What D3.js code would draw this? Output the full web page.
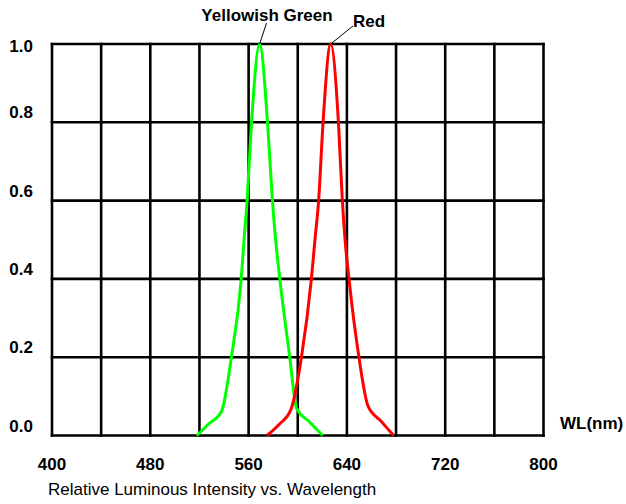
<!DOCTYPE html>
<html>
<head>
<meta charset="utf-8">
<script src="https://cdn.jsdelivr.net/npm/d3@7"></script>
<style>
  body { margin: 0; background: #fff; }
  svg text { font-family: "Liberation Sans", Arial, sans-serif; }
</style>
</head>
<body>
<div id="chart"></div>
<script>
// wavelength ticks (nm) and relative intensity ticks
const xTickLabels = [400, 480, 560, 640, 720, 800];
const yTickLabels = [0.0, 0.2, 0.4, 0.6, 0.8, 1.0];

// yellowish green curve
const greenNm  = [518, 527, 538, 546, 554, 556.3, 558.8, 562.4, 569, 575.4, 579.4, 582, 585.4, 593.5, 599, 609.8, 620.3];
const greenVal = [0, 0.028, 0.062, 0.2, 0.4, 0.5, 0.6, 0.8, 1.0, 0.8, 0.6, 0.5, 0.4, 0.2, 0.07, 0.034, 0];

// red curve
const redNm  = [575, 585.4, 594.3, 603, 611.1, 614, 617, 620.6, 626.8, 633.1, 636.3, 638.5, 641.7, 649.8, 657.2, 668, 678];
const redVal = [0, 0.03, 0.065, 0.2, 0.4, 0.5, 0.6, 0.8, 1.0, 0.8, 0.6, 0.5, 0.4, 0.2, 0.075, 0.036, 0];

const seriesNames = ["Yellowish Green", "Red"];

let wid = 626, het = 504;
let margin = { top: 44, left: 52 };
let plotW = 491.5, plotH = 391.5;

let svg = d3.select("#chart").append("svg")
    .attr("width", wid)
    .attr("height", het);

let x = d3.scaleLinear().domain([400, 800]).range([margin.left, margin.left + plotW]);
let y = d3.scaleLinear().domain([0, 1]).range([margin.top + plotH, margin.top]);

// grid, every 40 nm and every 0.2
let grid = svg.append("g")
    .attr("stroke", "#000")
    .attr("stroke-width", 2.6)
    .attr("stroke-linecap", "square");

grid.selectAll(".vline")
    .data(d3.range(400, 801, 40))
    .enter().append("line")
    .attr("x1", d => x(d)).attr("x2", d => x(d))
    .attr("y1", y(0)).attr("y2", y(1));

grid.selectAll(".hline")
    .data(yTickLabels)
    .enter().append("line")
    .attr("y1", d => y(d)).attr("y2", d => y(d))
    .attr("x1", x(400)).attr("x2", x(800));

// tick labels
svg.selectAll(".xlab")
    .data(xTickLabels)
    .enter().append("text")
    .attr("x", d => x(d))
    .attr("y", 470)
    .attr("text-anchor", "middle")
    .attr("font-size", 17)
    .attr("font-weight", "bold")
    .text(d => d);

svg.selectAll(".ylab")
    .data(yTickLabels)
    .enter().append("text")
    .attr("x", 33)
    .attr("y", d => Math.max(y(d) - 4, y(1) + 8))
    .attr("text-anchor", "end")
    .attr("font-size", 17)
    .attr("font-weight", "bold")
    .text(d => d.toFixed(1));

svg.append("text")
    .attr("x", 560)
    .attr("y", 429)
    .attr("font-size", 17)
    .attr("font-weight", "bold")
    .text("WL(nm)");

svg.append("text")
    .attr("x", 48)
    .attr("y", 495)
    .attr("font-size", 17)
    .text("Relative Luminous Intensity vs. Wavelength");

// curves
let line = d3.line()
    .curve(d3.curveMonotoneX)
    .x(d => x(d[0]))
    .y(d => y(d[1]));

let series = [
    { name: seriesNames[0], pts: d3.zip(greenNm, greenVal), color: "#00ff00" },
    { name: seriesNames[1], pts: d3.zip(redNm, redVal), color: "#ff0000" }
];

svg.selectAll(".curve")
    .data(series)
    .enter().append("path")
    .attr("fill", "none")
    .attr("stroke", d => d.color)
    .attr("stroke-width", 3)
    .attr("stroke-linejoin", "round")
    .attr("d", d => line(d.pts));

// callouts at each peak
let labelPos = [
    { tx: 267, ty: 21, anchor: "middle", lx: 266.5, ly: 23 },
    { tx: 353, ty: 27, anchor: "start", lx: 353, ly: 26 }
];

series.forEach((s, i) => {
    let peak = s.pts.reduce((a, b) => (b[1] > a[1] ? b : a));
    let p = labelPos[i];
    svg.append("line")
        .attr("x1", p.lx).attr("y1", p.ly)
        .attr("x2", x(peak[0])).attr("y2", y(peak[1]))
        .attr("stroke", "#000")
        .attr("stroke-width", 1);
    svg.append("text")
        .attr("x", p.tx)
        .attr("y", p.ty)
        .attr("text-anchor", p.anchor)
        .attr("font-size", 17)
        .attr("font-weight", "bold")
        .text(s.name);
});
</script>
</body>
</html>
